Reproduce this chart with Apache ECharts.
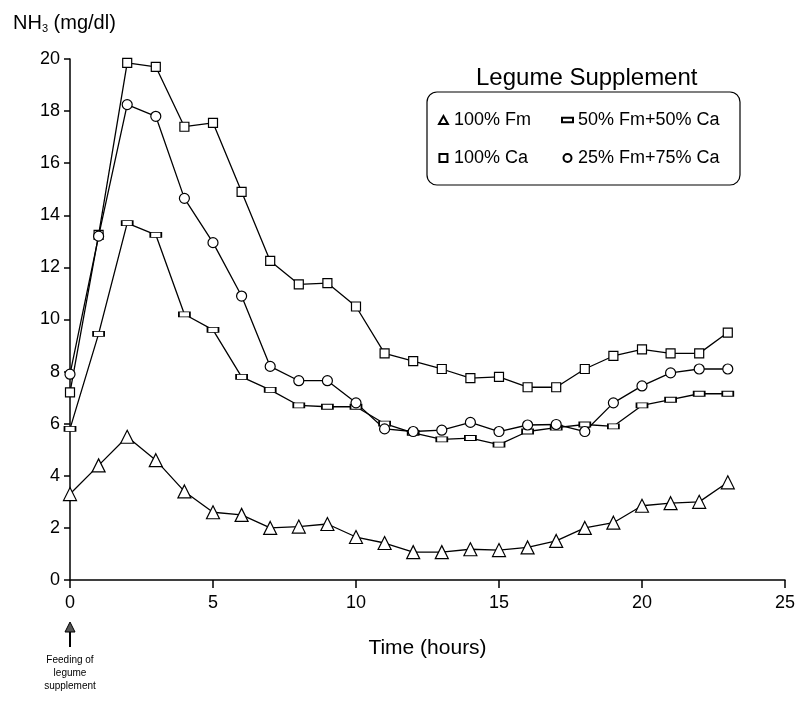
<!DOCTYPE html>
<html>
<head>
<meta charset="utf-8">
<script src="https://cdn.jsdelivr.net/npm/echarts@6/dist/echarts.min.js"></script>
<style>
  html, body { margin: 0; padding: 0; background: #fff; }
  #chart-dom { width: 798px; height: 702px; }
</style>
</head>
<body>
<div id="chart-dom"></div>
<script>
// hours after feeding
const hours = [0, 1, 2, 3, 4, 5, 6, 7, 8, 9, 10, 11, 12, 13, 14, 15, 16, 17, 18, 19, 20, 21, 22, 23];
// NH3 (mg/dl)
const fm100 = [3.3, 4.4, 5.5, 4.6, 3.4, 2.6, 2.5, 2.0, 2.05, 2.15, 1.65, 1.42, 1.07, 1.07, 1.18, 1.15, 1.25, 1.5, 2.0, 2.2, 2.85, 2.95, 3.0, 3.75];
const fm50ca50 = [5.8, 9.45, 13.7, 13.25, 10.2, 9.6, 7.8, 7.3, 6.7, 6.65, 6.65, 6.0, 5.65, 5.4, 5.45, 5.2, 5.7, 5.85, 5.97, 5.9, 6.7, 6.92, 7.15, 7.15];
const ca100 = [7.2, 13.25, 19.85, 19.7, 17.4, 17.55, 14.9, 12.25, 11.35, 11.4, 10.5, 8.7, 8.4, 8.1, 7.75, 7.8, 7.4, 7.4, 8.1, 8.6, 8.85, 8.7, 8.7, 9.5];
const fm25ca75 = [7.9, 13.2, 18.25, 17.8, 14.65, 12.95, 10.9, 8.2, 7.65, 7.65, 6.8, 5.8, 5.7, 5.75, 6.05, 5.7, 5.95, 5.97, 5.7, 6.8, 7.45, 7.95, 8.1, 8.1];

const names = ['100% Fm', '50% Fm+50% Ca', '100% Ca', '25% Fm+75% Ca'];

const pair = (vals) => hours.map((h, i) => [h, vals[i]]);

const myChart = echarts.init(document.getElementById('chart-dom'));
const font = 'Liberation Sans, Arial, sans-serif';

const lineSeries = (name, vals, symbol, size) => ({
  name: name,
  type: 'line',
  data: pair(vals),
  symbol: symbol,
  symbolSize: size,
  showAllSymbol: true,
  lineStyle: { color: '#000', width: 1.3 },
  itemStyle: { color: '#fff', borderColor: '#000', borderWidth: 1.2 },
  emphasis: { disabled: true },
  z: 3
});

// two legend columns, boxed by a rounded rect below
const legendBase = {
  orient: 'vertical',
  top: 111,
  itemWidth: 11,
  itemHeight: 8,
  itemGap: 20,
  padding: 0,
  selectedMode: false,
  textStyle: { fontFamily: font, fontSize: 18, color: '#000' }
};

const option = {
  animation: false,
  backgroundColor: '#fff',
  textStyle: { fontFamily: font, color: '#000' },
  title: [
    {
      text: 'NH{s|3} (mg/dl)',
      left: 8,
      top: 8,
      textStyle: {
        fontFamily: font, fontSize: 20, fontWeight: 'normal', color: '#000',
        rich: { s: { fontFamily: font, fontSize: 11, color: '#000', padding: [10, 0, 0, 0] } }
      }
    },
    {
      text: 'Legume Supplement',
      left: 471,
      top: 61,
      textStyle: { fontFamily: font, fontSize: 24, fontWeight: 'normal', color: '#000' }
    }
  ],
  legend: [
    Object.assign({}, legendBase, {
      left: 438,
      data: [
        { name: names[0], icon: 'path://M5,0L10,9H0Z' },
        { name: names[2], icon: 'path://M0,0H8V8H0Z' }
      ]
    }),
    Object.assign({}, legendBase, {
      left: 561,
      data: [
        { name: names[1], icon: 'path://M0,0H12V5H0Z' },
        { name: names[3], icon: 'circle' }
      ]
    })
  ],
  grid: { left: 70, right: 10, top: 59, bottom: 122 },
  xAxis: {
    type: 'value',
    min: 0,
    max: 25,
    interval: 5,
    name: 'Time (hours)',
    nameLocation: 'middle',
    nameGap: 58,
    nameTextStyle: { fontFamily: font, fontSize: 21, color: '#000' },
    axisLine: { lineStyle: { color: '#000', width: 1.5 } },
    axisTick: { inside: false, length: 8, lineStyle: { color: '#000', width: 1.5 } },
    axisLabel: { fontFamily: font, fontSize: 18, color: '#000', margin: 14 },
    splitLine: { show: false }
  },
  yAxis: {
    type: 'value',
    min: 0,
    max: 20,
    interval: 2,
    axisLine: { show: true, lineStyle: { color: '#000', width: 1.5 } },
    axisTick: { show: true, inside: false, length: 6, lineStyle: { color: '#000', width: 1.5 } },
    axisLabel: { fontFamily: font, fontSize: 18, color: '#000', margin: 10 },
    splitLine: { show: false }
  },
  graphic: [
    {
      type: 'rect',
      shape: { x: 427, y: 92, width: 313, height: 93, r: 10 },
      style: { fill: 'none', stroke: '#000', lineWidth: 1.2 }
    },
    { type: 'line', shape: { x1: 70, y1: 630, x2: 70, y2: 647 }, style: { stroke: '#000', lineWidth: 2 } },
    { type: 'polygon', shape: { points: [[70, 622], [65, 632], [75, 632]] }, style: { fill: '#555', stroke: '#000', lineWidth: 1 } },
    {
      type: 'text',
      x: 70,
      y: 654,
      style: {
        text: 'Feeding of\nlegume\nsupplement',
        fontFamily: font, fontSize: 10, lineHeight: 13,
        fill: '#000', align: 'center', verticalAlign: 'top'
      }
    }
  ],
  series: [
    lineSeries(names[0], fm100, 'triangle', 13),
    lineSeries(names[1], fm50ca50, 'rect', [11, 5]),
    lineSeries(names[2], ca100, 'rect', 9),
    lineSeries(names[3], fm25ca75, 'circle', 10)
  ]
};

myChart.setOption(option, true);
</script>
</body>
</html>
